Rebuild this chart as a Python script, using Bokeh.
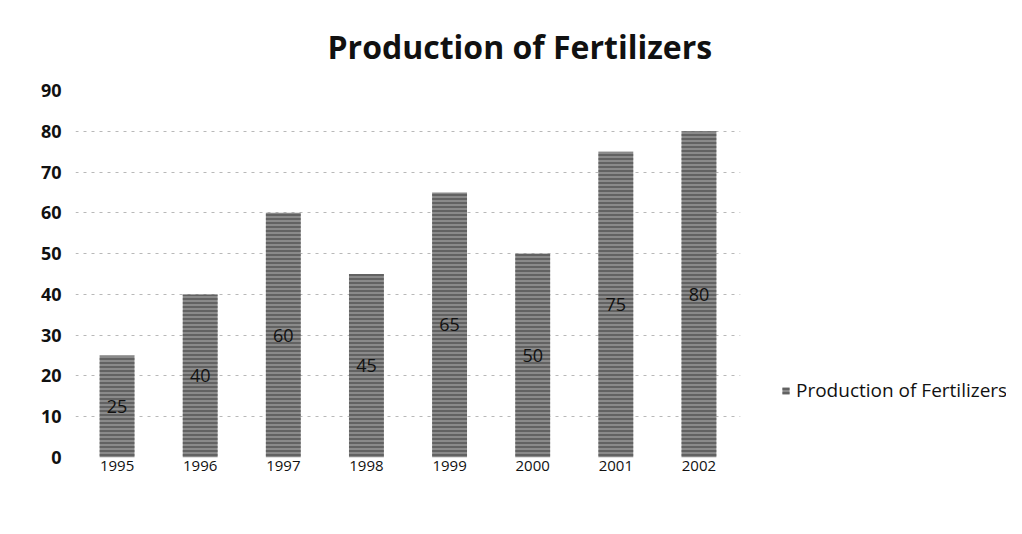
from bokeh.plotting import figure
from bokeh.layouts import row
from bokeh.models import ColumnDataSource, Legend, LegendItem, Range1d, LabelSet
from bokeh.core.properties import value
from bokeh.embed import file_html
from bokeh.resources import INLINE

years = ["1995", "1996", "1997", "1998", "1999", "2000", "2001", "2002"]
production = [25, 40, 60, 45, 65, 50, 75, 80]
y_ticks = [0, 10, 20, 30, 40, 50, 60, 70, 80, 90]
series_name = "Production of Fertilizers"

src = ColumnDataSource(dict(
    year=years,
    val=production,
    mid=[v / 2 for v in production],
    lbl=[str(v) for v in production],
))

BAR_STYLE = dict(fill_color="#8a8a8a", line_color=None,
                 hatch_pattern="horizontal_line", hatch_color="#3a3a3a",
                 hatch_scale=4, hatch_weight=1)

p = figure(width=760, height=518, x_range=years, y_range=Range1d(0, 90),
           output_backend="svg", toolbar_location=None,
           min_border_left=75, min_border_bottom=61, min_border_top=89,
           min_border_right=20)
p.title.text = series_name
p.title.align = "left"
p.title.offset = 252
p.title.standoff = 45
p.title.text_font = "Open Sans"
p.title.text_font_size = "32px"
p.title.text_font_style = "bold"
p.title.text_color = "#111111"

bars = p.vbar(x="year", top="val", width=0.42, source=src, **BAR_STYLE)

labels = LabelSet(x="year", y="mid", text="lbl", source=src,
                  text_align="center", text_baseline="middle",
                  text_font=value("Open Sans"), text_font_size="18px",
                  text_color="#111111")
p.add_layout(labels)

p.yaxis.ticker = y_ticks
for ax in (p.xaxis, p.yaxis):
    ax.axis_line_color = None
    ax.major_tick_line_color = None
    ax.minor_tick_line_color = None
    ax.major_tick_out = 0
    ax.major_tick_in = 0
p.yaxis.major_label_text_font = "Open Sans"
p.yaxis.major_label_text_font_style = "bold"
p.yaxis.major_label_text_font_size = "18px"
p.yaxis.major_label_text_color = "#111111"
p.yaxis.major_label_standoff = 14
p.xaxis.major_label_text_font = "Open Sans"
p.xaxis.major_label_text_font_size = "15px"
p.xaxis.major_label_text_color = "#111111"
p.xaxis.major_label_standoff = 3

p.xgrid.grid_line_color = None
p.ygrid.grid_line_color = "#9a9a9a"
p.ygrid.grid_line_dash = "3 5"
p.ygrid.grid_line_alpha = 0.7
p.outline_line_color = None

# legend panel
p2 = figure(width=246, height=518, x_range=Range1d(0, 1), y_range=Range1d(0, 1),
            output_backend="svg", toolbar_location=None,
            min_border_left=0, min_border_right=0, min_border_top=0, min_border_bottom=0)
p2.axis.visible = False
p2.grid.visible = False
p2.outline_line_color = None
dummy = p2.vbar(x=[5], top=[1], width=0.1, **BAR_STYLE)
legend = Legend(items=[LegendItem(label=series_name, renderers=[dummy])],
                location=(21, 54), border_line_color=None,
                label_text_font="Open Sans", label_text_font_size="19px",
                label_text_color="#111111", glyph_width=9, glyph_height=9,
                label_standoff=6, padding=4, margin=0, background_fill_alpha=0)
p2.add_layout(legend)

layout = row(p, p2)
open("out.html", "w").write(file_html(layout, INLINE))
